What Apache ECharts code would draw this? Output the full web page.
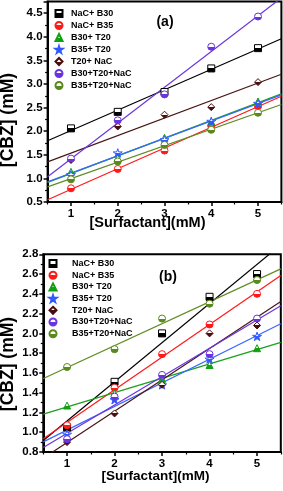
<!DOCTYPE html>
<html><head><meta charset="utf-8">
<script src="https://cdn.jsdelivr.net/npm/echarts@6/dist/echarts.min.js"></script>
<style>html,body{margin:0;padding:0;background:#fff}#c{width:283px;height:491px}</style>
</head><body><div id="c"></div>
<script>
// ---- data ----
const seriesNames = ['NaC+ B30', 'NaC+ B35', 'B30+ T20', 'B35+ T20', 'T20+ NaC', 'B30+T20+NaC', 'B35+T20+NaC'];
const surfactant = [1, 2, 3, 4, 5];
// panel (a)
const a_NaC_B30    = [2.06, 2.41, 2.83, 3.33, 3.76];
const a_NaC_B35    = [0.79, 1.20, 1.59, 2.11, 2.53];
const a_B30_T20    = [1.14, 1.43, 1.86, 2.20, 2.63];
const a_B35_T20    = [1.08, 1.54, 1.82, 2.21, 2.59];
const a_T20_NaC    = [1.39, 2.10, 2.35, 2.51, 3.04];
const a_B30T20NaC  = [1.42, 2.23, 2.78, 3.79, 4.43];
const a_B35T20NaC  = [0.98, 1.36, 1.71, 2.03, 2.39];
// panel (b)
const b_NaC_B30    = [1.05, 1.51, 2.00, 2.37, 2.60];
const b_NaC_B35    = [1.07, 1.45, 1.79, 2.09, 2.40];
const b_B30_T20    = [1.27, 1.39, 1.54, 1.68, 1.85];
const b_B35_T20    = [0.98, 1.33, 1.48, 1.74, 1.97];
const b_T20_NaC    = [0.90, 1.19, 1.48, 2.00, 2.08];
const b_B30T20NaC  = [0.93, 1.36, 1.58, 1.79, 2.15];
const b_B35T20NaC  = [1.66, 1.84, 2.15, 2.30, 2.54];
// axis ticks
const xTicks = [1, 2, 3, 4, 5];
const xMinorTicks = [0.5, 1.5, 2.5, 3.5, 4.5, 5.5];

const panelA = [a_NaC_B30, a_NaC_B35, a_B30_T20, a_B35_T20, a_T20_NaC, a_B30T20NaC, a_B35T20NaC];
const panelB = [b_NaC_B30, b_NaC_B35, b_B30_T20, b_B35_T20, b_T20_NaC, b_B30T20NaC, b_B35T20NaC];

// ---- styles ----
const STAR = 'path://M50,0 L61,35 L98,35 L68,57 L79,91 L50,70 L21,91 L32,57 L2,35 L39,35 Z';
const markerColors = ['#000000', '#ff1a1a', '#11a011', '#3058ff', '#4a0c0c', '#6a34e0', '#5a8a1c'];
const lineColors   = ['#000000', '#ff1a1a', '#1aa01a', '#3a68ff', '#4a1616', '#6a34e0', '#5f8c22'];
const symbols = ['rect', 'circle', 'triangle', STAR, 'diamond', 'circle', 'circle'];
const FONT = 'Liberation Sans, Arial, sans-serif';

function halfFill(c) {
  return new echarts.graphic.LinearGradient(0, 0, 0, 1, [
    {offset: 0, color: '#ffffff'}, {offset: 0.5, color: '#ffffff'},
    {offset: 0.5, color: c}, {offset: 1, color: c}
  ]);
}
function fit(ys) {
  const n = ys.length;
  const mx = surfactant.reduce((s, v) => s + v, 0) / n;
  const my = ys.reduce((s, v) => s + v, 0) / n;
  let sxy = 0, sxx = 0;
  for (let i = 0; i < n; i++) { sxy += (surfactant[i] - mx) * (ys[i] - my); sxx += (surfactant[i] - mx) ** 2; }
  const b = sxy / sxx, a = my - b * mx;
  return [[0.5, a + b * 0.5], [5.5, a + b * 5.5]];
}

const series = [];
[panelA, panelB].forEach((panel, gi) => {
  panel.forEach((ys, i) => {
    series.push({
      type: 'line', xAxisIndex: gi * 2, yAxisIndex: gi, data: fit(ys), showSymbol: false, symbol: 'none',
      lineStyle: {color: lineColors[i], width: 1.2}, silent: true, z: 2, clip: true
    });
  });
  panel.forEach((ys, i) => {
    series.push({
      type: 'scatter', name: seriesNames[i], xAxisIndex: gi * 2, yAxisIndex: gi,
      data: surfactant.map((x, k) => [x, ys[k]]),
      symbol: symbols[i], symbolSize: i === 3 ? 9 : 7, symbolKeepAspect: true,
      itemStyle: {color: halfFill(markerColors[i]), borderColor: markerColors[i], borderWidth: 1, opacity: 1},
      z: 5
    });
  });
});

const axisLine = {show: true, onZero: false, lineStyle: {color: '#000', width: 2}};
const labelStyle = {color: '#000', fontFamily: FONT, fontWeight: 'bold', fontSize: 11.5};

function xMain(gi) {
  return {
    type: 'value', gridIndex: gi, min: 0.5, max: 5.5, interval: 0.5,
    axisLine: axisLine, splitLine: {show: false},
    axisTick: {show: true, inside: false, length: 4, lineStyle: {width: 1.5, color: '#000'}, customValues: xTicks},
    axisLabel: Object.assign({margin: 6, customValues: xTicks, formatter: v => String(v)}, labelStyle)
  };
}
function xMinor(gi) {
  return {
    type: 'value', gridIndex: gi, min: 0.5, max: 5.5, interval: 0.5, position: 'bottom',
    axisLine: {show: false}, splitLine: {show: false}, axisLabel: {show: false},
    axisTick: {show: true, inside: false, length: 2.5, lineStyle: {width: 1.2, color: '#000'}, customValues: xMinorTicks}
  };
}
function yAx(gi, min, max, interval) {
  return {
    type: 'value', gridIndex: gi, min: min, max: max, interval: interval,
    axisLine: axisLine, splitLine: {show: false},
    axisTick: {show: true, inside: false, length: 4, lineStyle: {width: 1.5, color: '#000'}},
    minorTick: {show: true, splitNumber: 2, length: 2.5, lineStyle: {width: 1.2, color: '#000'}},
    axisLabel: Object.assign({margin: 5, showMaxLabel: max === 2.8, formatter: v => v.toFixed(1)}, labelStyle)
  };
}

const legendBase = {
  orient: 'vertical', data: seriesNames, itemHeight: 7, itemWidth: 7, padding: 0, selectedMode: false
};

const option = {
  animation: false,
  backgroundColor: '#fff',
  grid: [
    {left: 47.6, top: 1.4, width: 233.8, height: 200.6, show: true, borderColor: '#000', borderWidth: 2, backgroundColor: 'transparent'},
    {left: 43.3, top: 254.3, width: 237.5, height: 197.7, show: true, borderColor: '#000', borderWidth: 2, backgroundColor: 'transparent'}
  ],
  xAxis: [xMain(0), xMinor(0), xMain(1), xMinor(1)],
  yAxis: [yAx(0, 0.5, 4.75, 0.5), yAx(1, 0.8, 2.8, 0.2)],
  legend: [
    Object.assign({left: 54.5, top: 9, itemGap: 3,
      textStyle: {color: '#000', fontFamily: FONT, fontWeight: 'bold', fontSize: 9, padding: [0, 0, 0, 3.5]}}, legendBase),
    Object.assign({left: 48.5, top: 259, itemGap: 2.7,
      textStyle: {color: '#000', fontFamily: FONT, fontWeight: 'bold', fontSize: 9, padding: [0, 0, 0, 10.5]}}, legendBase)
  ],
  graphic: [
    {type: 'text', style: {text: '(a)', x: 165, y: 22, align: 'center', verticalAlign: 'middle', font: 'bold 14px ' + FONT, fill: '#000'}},
    {type: 'text', style: {text: '(b)', x: 168, y: 277, align: 'center', verticalAlign: 'middle', font: 'bold 14px ' + FONT, fill: '#000'}},
    {type: 'text', style: {text: '[Surfactant](mM)', x: 147.5, y: 223, align: 'center', verticalAlign: 'middle', font: 'bold 14.5px ' + FONT, fill: '#000'}},
    {type: 'text', style: {text: '[Surfactant](mM)', x: 155.5, y: 476, align: 'center', verticalAlign: 'middle', font: 'bold 13.5px ' + FONT, fill: '#000'}},
    {type: 'text', x: 8, y: 120, rotation: Math.PI / 2, style: {text: '[CBZ] (mM)', x: 0, y: 0, align: 'center', verticalAlign: 'middle', font: 'bold 17.5px ' + FONT, fill: '#000'}},
    {type: 'text', x: 8, y: 364, rotation: Math.PI / 2, style: {text: '[CBZ] (mM)', x: 0, y: 0, align: 'center', verticalAlign: 'middle', font: 'bold 17.5px ' + FONT, fill: '#000'}}
  ],
  series: series
};
const chart = echarts.init(document.getElementById('c'), null, {renderer: 'canvas'});
chart.setOption(option);
</script></body></html>
